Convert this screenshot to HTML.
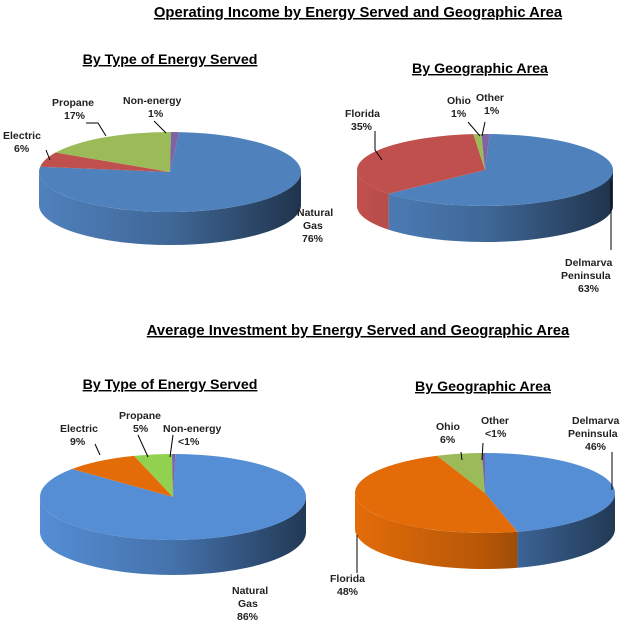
<!DOCTYPE html>
<html><head><meta charset="utf-8"><style>
body{margin:0;background:#fff;}
svg{display:block;font-family:"Liberation Sans",Arial,sans-serif;}
.t{font-weight:bold;font-size:14.8px;text-decoration:underline;}
.s{font-weight:bold;font-size:14.2px;text-decoration:underline;}
.l{font-size:10.5px;font-weight:bold;fill:#222;}
</style></head><body>
<svg id="c" width="630" height="623" viewBox="0 0 630 623">
<defs>
<linearGradient id="sh" x1="0" x2="1" y1="0" y2="0">
<stop offset="0" stop-color="#000" stop-opacity="0.0"/>
<stop offset="0.5" stop-color="#000" stop-opacity="0.2"/>
<stop offset="1" stop-color="#000" stop-opacity="0.6"/>
</linearGradient>
</defs>
<text class="t" x="358" y="17" text-anchor="middle">Operating Income by Energy Served and Geographic Area</text>
<text class="s" x="170" y="64" text-anchor="middle">By  Type of Energy Served</text>
<text class="s" x="480" y="73" text-anchor="middle">By  Geographic Area</text>
<text class="t" x="358" y="335" text-anchor="middle">Average Investment by Energy Served and Geographic Area</text>
<text class="s" x="170" y="389" text-anchor="middle">By  Type of Energy Served</text>
<text class="s" x="483" y="391" text-anchor="middle">By  Geographic Area</text>
<g id="pies"></g>
<g stroke="#000" stroke-width="1" fill="none">
<polyline points="46,150 50,160"/>
<polyline points="86,123 98,123 106,136"/>
<polyline points="154,121 166,133"/>
<polyline points="375,131 375,150 382,160"/>
<polyline points="468,122 480,136"/>
<polyline points="485,122 482,136"/>
<polyline points="611,180 611,250"/>
<polyline points="95,444 100,455"/>
<polyline points="138,435 148,457"/>
<polyline points="173,435 170,457"/>
<polyline points="461,452 462,460"/>
<polyline points="483,443 482,460"/>
<polyline points="612,452 612,490"/>
<polyline points="357,535 357,573"/>
</g>
<g class="l">
<text x="3" y="139">Electric</text><text x="14" y="152">6%</text>
<text x="52" y="106">Propane</text><text x="64" y="119">17%</text>
<text x="123" y="104">Non-energy</text><text x="148" y="117">1%</text>
<text x="297" y="216">Natural</text><text x="303" y="229">Gas</text><text x="302" y="242">76%</text>
<text x="345" y="117">Florida</text><text x="351" y="130">35%</text>
<text x="447" y="104">Ohio</text><text x="451" y="117">1%</text>
<text x="476" y="101">Other</text><text x="484" y="114">1%</text>
<text x="565" y="266">Delmarva</text><text x="561" y="279">Peninsula</text><text x="578" y="292">63%</text>
<text x="60" y="432">Electric</text><text x="70" y="445">9%</text>
<text x="119" y="419">Propane</text><text x="133" y="432">5%</text>
<text x="163" y="432">Non-energy</text><text x="178" y="445">&lt;1%</text>
<text x="232" y="594">Natural</text><text x="238" y="607">Gas</text><text x="237" y="620">86%</text>
<text x="436" y="430">Ohio</text><text x="440" y="443">6%</text>
<text x="481" y="424">Other</text><text x="485" y="437">&lt;1%</text>
<text x="572" y="424">Delmarva</text><text x="568" y="437">Peninsula</text><text x="585" y="450">46%</text>
<text x="330" y="582">Florida</text><text x="337" y="595">48%</text>
</g>
</svg>
<script>
var NS="http://www.w3.org/2000/svg",g=document.getElementById("pies");
function pie(cx,cy,rx,ry,d,start,sl){
 function P(t,dy){var r=t*Math.PI/180;return [cx+rx*Math.sin(r),cy-ry*Math.cos(r)+(dy||0)];}
 function add(path,f){var e=document.createElementNS(NS,"path");e.setAttribute("d",path);e.setAttribute("fill",f);g.appendChild(e);}
 var a=start,segs=[];
 sl.forEach(function(s){var b=a+s[0]*3.6;segs.push([a,b,s[1]]);a=b;});
 segs.forEach(function(s){
  var lo=Math.max(s[0],90),hi=Math.min(s[1],270);
  if(hi>lo){
   var p1=P(lo),p2=P(hi),p3=P(hi,d),p4=P(lo,d);
   add("M"+p1+" A"+rx+","+ry+" 0 0 1 "+p2+" L"+p3+" A"+rx+","+ry+" 0 0 0 "+p4+" Z",s[2]);
  }
 });
 // gradient overlay over entire front side (dark on right)
 var q1=P(90),q2=P(270),q3=P(270,d),q4=P(90,d);
 var e=document.createElementNS(NS,"path");
 e.setAttribute("d","M"+q2+" A"+rx+","+ry+" 0 0 0 "+q1+" L"+q4+" A"+rx+","+ry+" 0 0 1 "+q3+" Z");
 e.setAttribute("fill","url(#sh)");g.appendChild(e);
 segs.forEach(function(s){
  var p1=P(s[0]),p2=P(s[1]),large=(s[1]-s[0])>180?1:0;
  add("M"+cx+","+cy+" L"+p1+" A"+rx+","+ry+" 0 "+large+" 1 "+p2+" Z",s[2]);
 });
}
pie(170,172,131,40,33,4,[[76,"#4f81bd"],[6,"#c0504d"],[17,"#9bbb59"],[1,"#8064a2"]]);
pie(485,170,128,36,36,2,[[63,"#4f81bd"],[35,"#c0504d"],[1,"#9bbb59"],[1,"#8064a2"]]);
pie(173,497,133,43,35,1,[[86,"#558ed5"],[9,"#e36c09"],[4.6,"#92d050"],[0.4,"#8064a2"]]);
pie(485,493,130,40,36,0,[[46,"#558ed5"],[48,"#e36c09"],[5.6,"#9bbb59"],[0.4,"#8064a2"]]);
</script>
</body></html>
